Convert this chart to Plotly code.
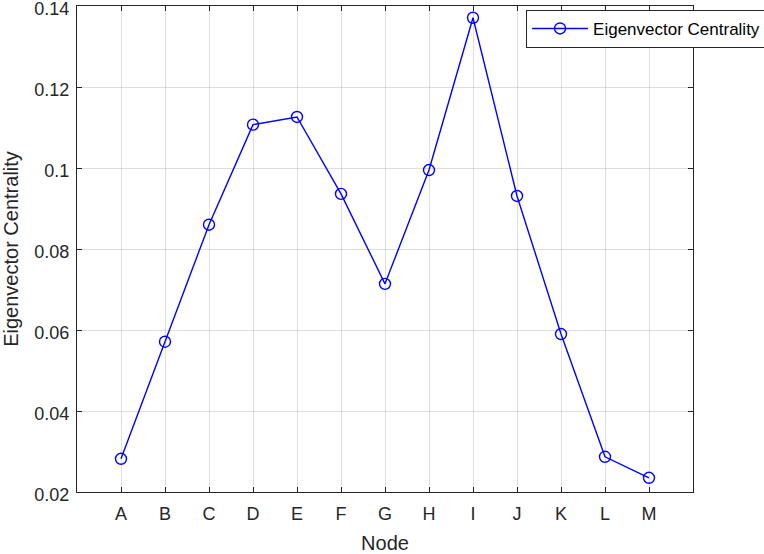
import plotly.graph_objects as go

nodes = ["A", "B", "C", "D", "E", "F", "G", "H", "I", "J", "K", "L", "M"]
centrality = [0.0282, 0.0571, 0.0860, 0.1107, 0.1126, 0.0936, 0.0714,
              0.0995, 0.1371, 0.0931, 0.0590, 0.0287, 0.0235]
y_ticks = [0.02, 0.04, 0.06, 0.08, 0.1, 0.12, 0.14]
y_tick_text = ["0.02", "0.04", "0.06", "0.08", "0.1", "0.12", "0.14"]

positions = list(range(1, len(nodes) + 1))
axis_color = "#262626"
font = "Liberation Sans, Arial, Helvetica, sans-serif"

fig = go.Figure()
fig.add_trace(go.Scatter(
    x=positions, y=centrality, mode="lines+markers",
    name="Eigenvector Centrality",
    line=dict(color="#0000ff", width=1.4),
    marker=dict(symbol="circle-open", size=11, color="#0000ff",
                line=dict(width=1.4, color="#0000ff")),
))

common = dict(
    showline=True, linecolor=axis_color, linewidth=1.2, mirror="ticks",
    ticks="inside", ticklen=5, tickcolor=axis_color, tickwidth=1,
    showgrid=True, gridcolor="rgba(0,0,0,0.13)", gridwidth=1,
    zeroline=False, ticklabeloverflow="allow",
    tickfont=dict(family=font, size=18, color=axis_color),
)

fig.update_xaxes(
    range=[0, 14], tickvals=positions, ticktext=nodes,
    ticklabelstandoff=5,
    title=dict(text="Node", font=dict(family=font, size=20, color=axis_color),
               standoff=14),
    **common,
)
fig.update_yaxes(
    range=[0.02 - 1e-7, 0.14 + 1e-7], tickvals=y_ticks, ticktext=y_tick_text,
    ticklabelstandoff=3, ticklabelshift=3,
    title=dict(text="Eigenvector Centrality",
               font=dict(family=font, size=20, color=axis_color), standoff=12),
    **common,
)

fig.update_layout(
    width=764, height=554,
    margin=dict(l=77, r=71, t=6, b=62, autoexpand=False),
    paper_bgcolor="white", plot_bgcolor="white",
    showlegend=True,
    legend=dict(
        x=0.729, y=0.992, xanchor="left", yanchor="top",
        bgcolor="white", bordercolor=axis_color, borderwidth=1,
        font=dict(family=font, size=17, color="#000000"),
        itemwidth=56, tracegroupgap=0,
    ),
)

fig.write_html("out.html")
